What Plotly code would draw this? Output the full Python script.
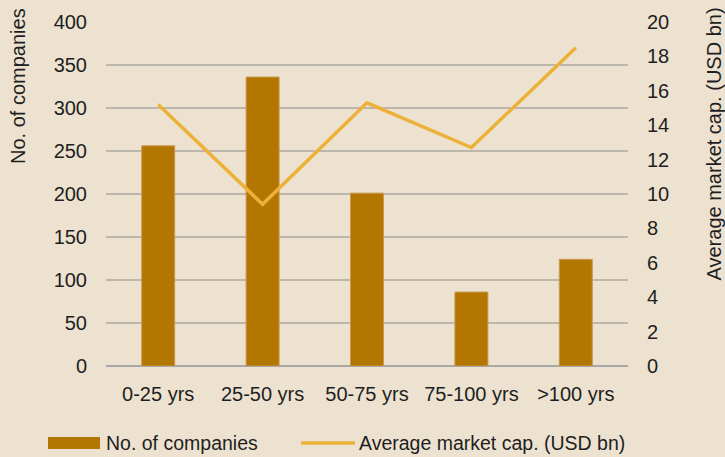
import plotly.graph_objects as go

categories = ["0-25 yrs", "25-50 yrs", "50-75 yrs", "75-100 yrs", ">100 yrs"]
num_companies = [256, 336, 201, 86, 124]
avg_market_cap = [15.2, 9.4, 15.3, 12.7, 18.5]
left_ticks = [0, 50, 100, 150, 200, 250, 300, 350, 400]
right_ticks = [0, 2, 4, 6, 8, 10, 12, 14, 16, 18, 20]

BG = "#EDE2D0"
BAR = "#B37600"
LINE = "#EDB13A"
TXT = "#1E1E1E"
FONT = "Liberation Sans, Arial, Helvetica, sans-serif"

W, H = 725, 457
L, R, T, B = 106, 97, 22, 91
PW, PH = W - L - R, H - T - B

def px(x):
    return (x - L) / PW

def py(y):
    return (H - B - y) / PH

fig = go.Figure()
fig.add_trace(go.Bar(
    x=categories, y=num_companies, name="No. of companies",
    marker=dict(color=BAR, line=dict(color="#C99A52", width=1)),
    yaxis="y", showlegend=False,
))
fig.add_trace(go.Scatter(
    x=categories, y=avg_market_cap, name="Average market cap. (USD bn)",
    mode="lines", line=dict(color=LINE, width=3.5),
    yaxis="y2", showlegend=False,
))

fig.update_layout(
    width=W, height=H,
    margin=dict(l=L, r=R, t=T, b=B),
    paper_bgcolor=BG, plot_bgcolor=BG,
    font=dict(family=FONT, size=20, color=TXT),
    bargap=0.684,
    showlegend=False,
    xaxis=dict(
        showgrid=False, showline=False, ticks="", ticklabelstandoff=14,
        tickfont=dict(size=20, color=TXT),
    ),
    yaxis=dict(
        range=[0, 400], tickvals=left_ticks,
        showgrid=True, gridcolor="#BCB6AD", gridwidth=1.5,
        zeroline=True, zerolinecolor="#A8A8A8", zerolinewidth=2,
        showline=False, ticks="", ticklabelstandoff=18,
        tickfont=dict(size=20, color=TXT),
    ),
    yaxis2=dict(
        range=[0, 20], tickvals=right_ticks, overlaying="y", side="right",
        showgrid=False, zeroline=False, showline=False, ticks="",
        ticklabelstandoff=18, tickfont=dict(size=20, color=TXT),
    ),
)

# Axis titles
fig.add_annotation(
    text="No. of companies", textangle=-90, showarrow=False,
    xref="paper", yref="paper", x=px(18), y=py(6),
    xanchor="center", yanchor="top", font=dict(size=20, color=TXT),
)
fig.add_annotation(
    text="Average market cap. (USD bn)", textangle=-90, showarrow=False,
    xref="paper", yref="paper", x=px(714), y=py(6),
    xanchor="center", yanchor="top", font=dict(size=20, color=TXT),
)

# Custom legend
fig.add_shape(type="rect", xref="paper", yref="paper",
              x0=px(48), x1=px(100), y0=py(449), y1=py(437),
              fillcolor=BAR, line=dict(width=0))
fig.add_annotation(text="No. of companies", showarrow=False,
                   xref="paper", yref="paper", x=px(104), y=py(443),
                   xanchor="left", yanchor="middle", font=dict(size=19.5, color=TXT))
fig.add_shape(type="line", xref="paper", yref="paper",
              x0=px(301), x1=px(355), y0=py(443), y1=py(443),
              line=dict(color=LINE, width=3.5))
fig.add_annotation(text="Average market cap. (USD bn)", showarrow=False,
                   xref="paper", yref="paper", x=px(357), y=py(443),
                   xanchor="left", yanchor="middle", font=dict(size=19.5, color=TXT))

fig.write_html("out.html",
               config={"displayModeBar": False},
               post_script="document.body.style.margin='0';document.body.style.background='%s';" % BG)
